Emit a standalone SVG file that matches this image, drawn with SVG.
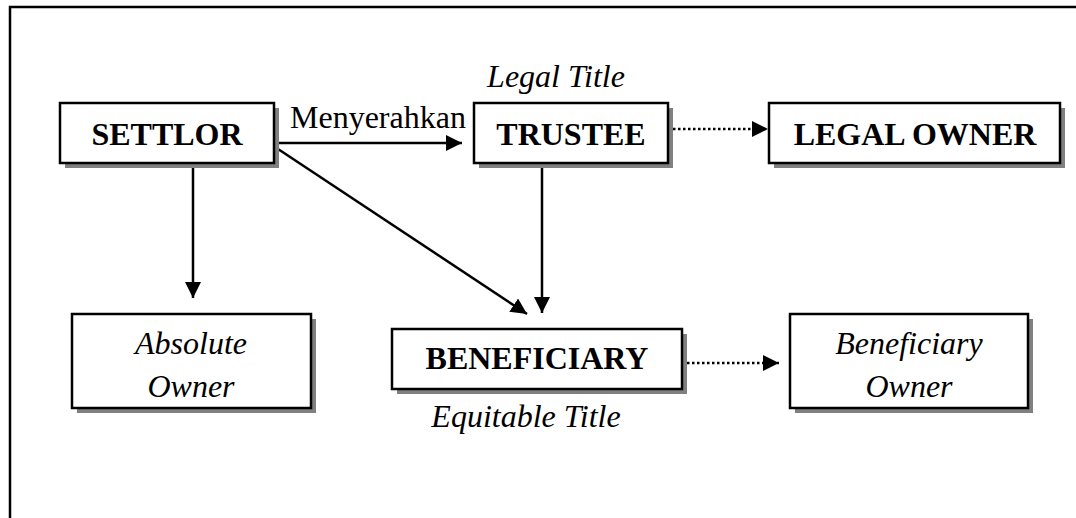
<svg xmlns="http://www.w3.org/2000/svg" width="1076" height="518" viewBox="0 0 1076 518">
<style>
.box{fill:#fff;stroke:#000;stroke-width:2.5}
.sh{fill:#808080}
.t{font-family:"Liberation Serif","Times New Roman",serif;font-size:32px;fill:#000}
.b{font-weight:bold}
.i{font-style:italic}
.c{stroke:#000;stroke-width:2.5;fill:none}
.d{stroke-dasharray:2.5 2.5;stroke-width:2.5}
</style>
<defs>
<marker id="ah" markerUnits="userSpaceOnUse" markerWidth="17" markerHeight="16" refX="16" refY="8" orient="auto">
<path d="M0,0 L16,8 L0,16 z" fill="#000"/>
</marker>
</defs>
<rect width="1076" height="518" fill="#fff"/>
<g id="frame">
<path d="M10,518 V7 H1076" fill="none" stroke="#000" stroke-width="2.5"/>
</g>
<g id="connectors">
<line class="c" x1="275" y1="143" x2="462" y2="143" marker-end="url(#ah)"/>
<line class="c" x1="193" y1="164" x2="193" y2="298" marker-end="url(#ah)"/>
<line class="c" x1="542" y1="164" x2="542" y2="313" marker-end="url(#ah)"/>
<line class="c" x1="275" y1="147" x2="527" y2="314" marker-end="url(#ah)"/>
<line class="c d" x1="673" y1="129" x2="768" y2="129" marker-end="url(#ah)"/>
<line class="c d" x1="687" y1="363" x2="779" y2="363" marker-end="url(#ah)"/>
<text class="t" x="290" y="128">Menyerahkan</text>
</g>
<g id="settlor">
<rect class="sh" x="65" y="108" width="214" height="60"/>
<rect class="box" x="60" y="103" width="214" height="60"/>
<text class="t b" x="167" y="145" text-anchor="middle">SETTLOR</text>
</g>
<g id="trustee">
<rect class="sh" x="479" y="108" width="194" height="60"/>
<rect class="box" x="474" y="103" width="194" height="60"/>
<text class="t b" x="571" y="145" text-anchor="middle">TRUSTEE</text>
<text class="t i" x="556" y="87" text-anchor="middle">Legal Title</text>
</g>
<g id="legal-owner">
<rect class="sh" x="774" y="108" width="291" height="60"/>
<rect class="box" x="769" y="103" width="291" height="60"/>
<text class="t b" x="915" y="145" text-anchor="middle">LEGAL OWNER</text>
</g>
<g id="absolute-owner">
<rect class="sh" x="77" y="319" width="239" height="94"/>
<rect class="box" x="72" y="314" width="239" height="94"/>
<text class="t i" x="191" y="354" text-anchor="middle">Absolute</text>
<text class="t i" x="191" y="397" text-anchor="middle">Owner</text>
</g>
<g id="beneficiary">
<rect class="sh" x="397" y="334" width="290" height="60"/>
<rect class="box" x="392" y="329" width="290" height="60"/>
<text class="t b" x="537" y="369" text-anchor="middle">BENEFICIARY</text>
<text class="t i" x="526" y="427" text-anchor="middle">Equitable Title</text>
</g>
<g id="beneficiary-owner">
<rect class="sh" x="795" y="319" width="238" height="94"/>
<rect class="box" x="790" y="314" width="238" height="94"/>
<text class="t i" x="909" y="354" text-anchor="middle">Beneficiary</text>
<text class="t i" x="909" y="397" text-anchor="middle">Owner</text>
</g>
</svg>
